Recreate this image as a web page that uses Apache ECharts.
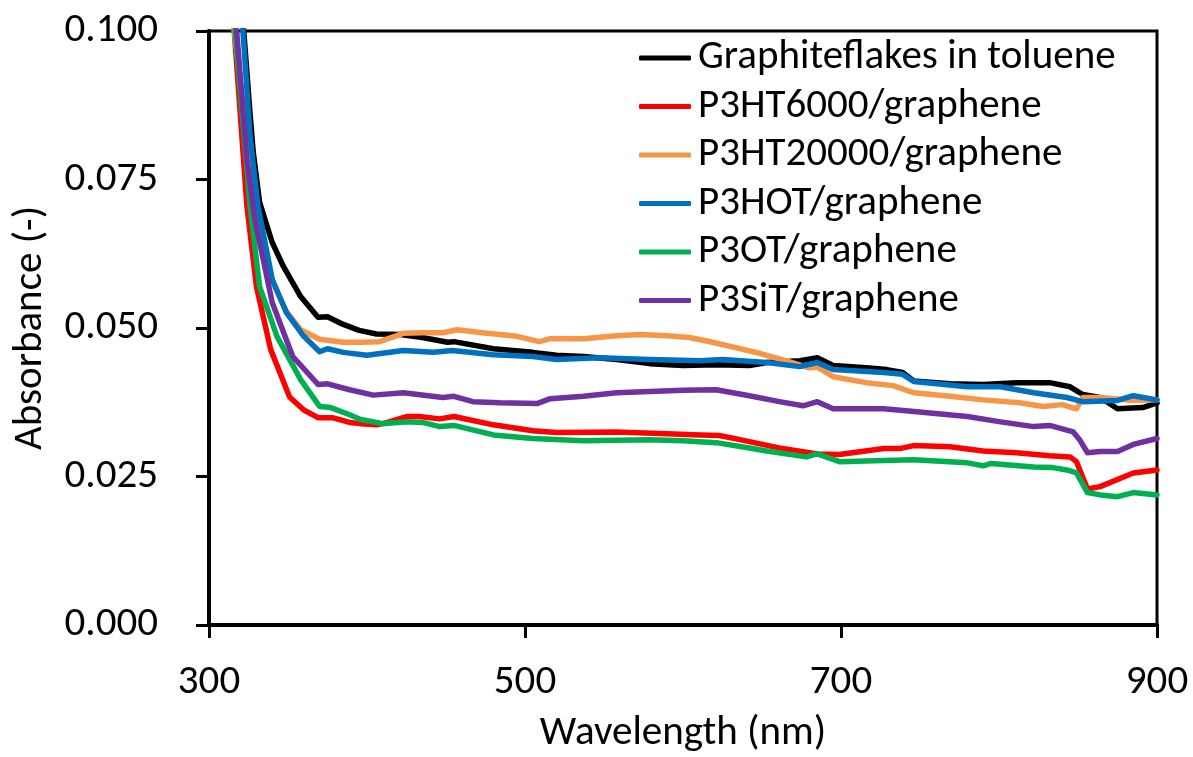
<!DOCTYPE html>
<html>
<head>
<meta charset="utf-8">
<title>Absorbance spectra</title>
<script src="https://cdn.jsdelivr.net/npm/echarts@6/dist/echarts.min.js"></script>
<style>
  html, body { margin: 0; padding: 0; background: #fff; }
  #chart { width: 1193px; height: 757px; }
</style>
</head>
<body>
<div id="chart"></div>
<script>
// Series names and colours
const seriesNames = [
  'Graphiteflakes in toluene',
  'P3HT6000/graphene',
  'P3HT20000/graphene',
  'P3HOT/graphene',
  'P3OT/graphene',
  'P3SiT/graphene'
];
const seriesColors = ['#000000', '#FF0000', '#F79646', '#0070C0', '#00B050', '#7030A0'];

// Axis ticks
const xTicks = [300, 500, 700, 900];
const yTicks = [0.000, 0.025, 0.050, 0.075, 0.100];

// [wavelength (nm), absorbance] per sample
const graphite = [
  [310,0.125],[322,0.100],[326,0.086],[328,0.0796],[332,0.0712],[340,0.0644],[347,0.0604],
  [358,0.0553],[369,0.0518],[375,0.0519],[385,0.0506],[395,0.0496],[406,0.0490],[421,0.0489],
  [435,0.0484],[451,0.0476],[455,0.0477],[480,0.0465],[505,0.0459],[520,0.0454],[537,0.0452],
  [558,0.0447],[579,0.0440],[600,0.0437],[621,0.0438],[642,0.0437],[653,0.0442],[674,0.0445],
  [685,0.0450],[695,0.0437],[716,0.0433],[729,0.0430],[739,0.0425],[746,0.0411],[769,0.0406],
  [790,0.0405],[811,0.0408],[832,0.0408],[845,0.0401],[853,0.0388],[864,0.0383],[875,0.0364],
  [891,0.0366],[900,0.0374]
];
const p3ht6000 = [
  [312,0.125],[316,0.100],[324,0.0705],[330,0.0570],[339,0.0464],[351,0.0384],[360,0.0362],
  [369,0.0349],[378,0.0349],[389,0.0341],[396,0.0339],[406,0.0337],[413,0.0341],[425,0.0351],
  [433,0.0351],[446,0.0347],[455,0.0351],[480,0.0337],[505,0.0327],[520,0.0324],[558,0.0325],
  [590,0.0322],[611,0.0320],[623,0.0319],[636,0.0312],[663,0.0297],[685,0.0288],[699,0.0287],
  [727,0.0297],[737,0.0297],[746,0.0302],[769,0.0300],[790,0.0293],[811,0.0290],[832,0.0285],
  [845,0.0283],[849,0.0275],[856,0.0229],[864,0.0233],[885,0.0256],[900,0.0261]
];
const p3ht20000 = [
  [311,0.125],[316,0.100],[325,0.080],[331,0.0695],[340,0.0578],[349,0.0528],[358,0.0497],
  [370,0.0481],[385,0.0476],[396,0.0476],[408,0.0477],[423,0.0491],[435,0.0492],[448,0.0492],
  [457,0.0497],[473,0.0492],[495,0.0486],[509,0.0477],[516,0.0482],[537,0.0482],[558,0.0487],
  [573,0.0489],[590,0.0487],[604,0.0484],[615,0.0478],[630,0.0469],[649,0.0457],[666,0.0444],
  [680,0.0433],[685,0.0434],[695,0.0418],[716,0.0408],[733,0.0403],[746,0.0391],[769,0.0385],
  [790,0.0379],[813,0.0374],[828,0.0368],[840,0.0371],[849,0.0364],[853,0.0383],[864,0.0383],
  [885,0.0378],[900,0.0379]
];
const p3hot = [
  [314,0.125],[321.5,0.100],[326,0.0823],[331,0.0705],[340,0.0582],[349,0.0526],[360,0.0486],
  [370,0.0460],[375,0.0465],[385,0.0459],[400,0.0454],[423,0.0462],[442,0.0459],[454,0.0462],
  [480,0.0455],[505,0.0452],[520,0.0447],[547,0.0450],[579,0.0447],[611,0.0445],[625,0.0447],
  [653,0.0442],[674,0.0435],[685,0.0442],[695,0.0430],[727,0.0425],[739,0.0422],[746,0.0410],
  [780,0.0401],[801,0.0401],[822,0.0391],[843,0.0383],[853,0.0376],[875,0.0378],[885,0.0386],
  [900,0.0379]
];
const p3ot = [
  [312,0.125],[316.5,0.100],[326,0.0705],[332,0.0570],[343,0.0486],[358,0.0413],[370,0.0368],
  [377,0.0366],[389,0.0354],[396,0.0346],[410,0.0339],[425,0.0342],[435,0.0341],[446,0.0334],
  [455,0.0336],[480,0.0320],[505,0.0314],[537,0.0310],[579,0.0312],[600,0.0310],[621,0.0307],
  [642,0.0298],[653,0.0293],[678,0.0283],[685,0.0288],[699,0.0275],[727,0.0277],[746,0.0278],
  [780,0.0273],[790,0.0268],[795,0.0272],[822,0.0266],[834,0.0265],[843,0.0261],[849,0.0256],
  [856,0.0223],[864,0.0219],[875,0.0216],[885,0.0223],[900,0.0219]
];
const p3sit = [
  [312,0.125],[317.5,0.100],[324,0.0784],[329,0.0683],[340,0.0543],[353,0.0452],[369,0.0405],
  [375,0.0406],[389,0.0396],[404,0.0387],[423,0.0391],[448,0.0383],[455,0.0385],[467,0.0376],
  [484,0.0374],[508,0.0373],[516,0.0381],[537,0.0385],[558,0.0391],[579,0.0393],[600,0.0395],
  [621,0.0396],[642,0.0386],[661,0.0376],[676,0.0369],[685,0.0376],[695,0.0364],[727,0.0364],
  [748,0.0359],[780,0.0351],[801,0.0342],[822,0.0334],[832,0.0336],[847,0.0325],[851,0.0312],
  [856,0.0290],[864,0.0292],[875,0.0292],[885,0.0304],[900,0.0314]
];

const seriesData = [graphite, p3ht6000, p3ht20000, p3hot, p3ot, p3sit];

const FONT = 'Carlito, Calibri, Lato, "Noto Sans", sans-serif';
const FONT_SIZE = 41;

const chart = echarts.init(document.getElementById('chart'), null, { renderer: 'canvas' });

chart.setOption({
  animation: false,
  backgroundColor: '#ffffff',
  textStyle: { fontFamily: FONT, color: '#000' },
  grid: {
    left: 209, right: 36, top: 31, bottom: 132,
    outerBoundsMode: 'none',
    containLabel: false,
    show: true, borderColor: '#000', borderWidth: 3, backgroundColor: 'transparent'
  },
  legend: {
    orient: 'vertical',
    left: 639,
    top: 37,
    icon: 'roundRect',
    itemWidth: 52,
    itemHeight: 5,
    itemGap: 6.5,
    padding: 0,
    textStyle: { fontFamily: FONT, fontSize: FONT_SIZE, color: '#000', lineHeight: 42, padding: [0, 0, 0, 2] },
    data: seriesNames
  },
  xAxis: {
    type: 'value',
    min: xTicks[0],
    max: xTicks[xTicks.length - 1],
    interval: xTicks[1] - xTicks[0],
    name: 'Wavelength (nm)',
    nameLocation: 'middle',
    nameGap: 88,
    nameTextStyle: { fontFamily: FONT, fontSize: FONT_SIZE, color: '#000' },
    axisLine: { show: true, onZero: false, lineStyle: { color: '#000', width: 4 } },
    axisTick: { show: true, inside: false, length: 13, lineStyle: { color: '#000', width: 3 } },
    axisLabel: { margin: 37, fontFamily: FONT, fontSize: FONT_SIZE, color: '#000' },
    splitLine: { show: false }
  },
  yAxis: {
    type: 'value',
    min: yTicks[0],
    max: yTicks[yTicks.length - 1],
    interval: yTicks[1] - yTicks[0],
    name: 'Absorbance (-)',
    nameLocation: 'middle',
    nameGap: 158,
    nameTextStyle: { fontFamily: FONT, fontSize: FONT_SIZE, color: '#000' },
    axisLine: { show: true, lineStyle: { color: '#000', width: 4 } },
    axisTick: { show: true, inside: false, length: 13, lineStyle: { color: '#000', width: 3 } },
    axisLabel: {
      margin: 51, fontFamily: FONT, fontSize: FONT_SIZE, color: '#000',
      formatter: v => v.toFixed(3)
    },
    splitLine: { show: false }
  },
  series: seriesNames.map((name, i) => ({
    name,
    type: 'line',
    data: seriesData[i],
    color: seriesColors[i],
    symbol: 'none',
    showSymbol: false,
    smooth: false,
    clip: true,
    itemStyle: { color: seriesColors[i] },
    lineStyle: { width: 5.5, color: seriesColors[i], cap: 'round', join: 'round' }
  }))
});
</script>
</body>
</html>
